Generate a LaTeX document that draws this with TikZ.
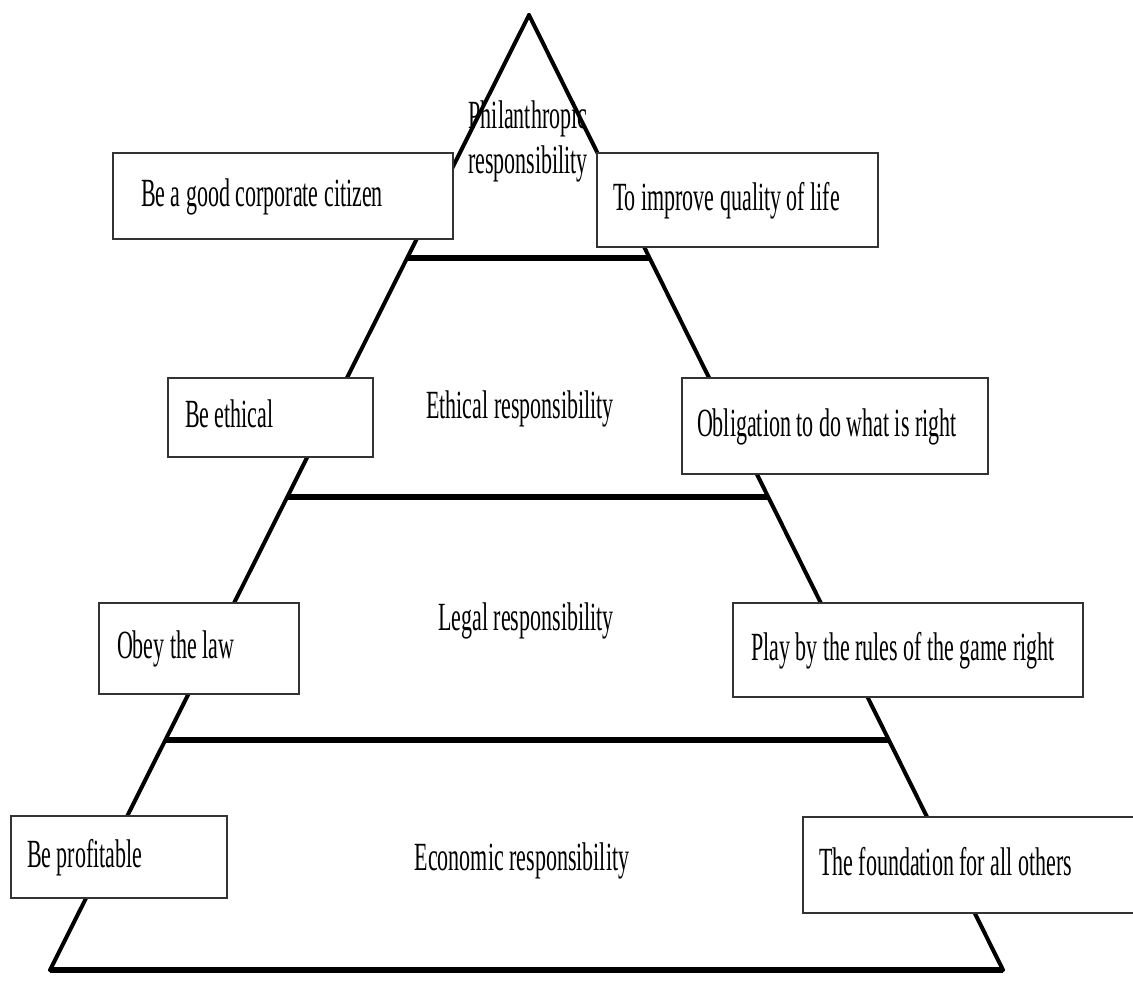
\documentclass[tikz,border=0pt]{standalone}
\usepackage{fontspec}
\setmainfont{Liberation Serif}[FakeStretch=0.55]
\usetikzlibrary{calc}

\begin{document}
\begin{tikzpicture}[x=0.5pt, y=-0.5pt]

\tikzstyle{rbox} = [draw=black!80, line width=1pt, fill=white, rectangle, inner xsep=0pt, text height=14pt, text depth=4pt, font=\fontsize{20}{22.5}\selectfont]
\tikzstyle{level} = [align=center, anchor=base, font=\fontsize{20}{22.5}\selectfont]
\tikzstyle{side} = [line width=2pt, line cap=round]
\tikzstyle{tier} = [line width=2.8pt]

\useasboundingbox (0,0) rectangle (1133,981);
\clip (0,0) rectangle (1133,981);

% pyramid outline
\coordinate (apex) at (529,15);
\coordinate (bl) at (50,970);
\coordinate (br) at (1003,970);

\draw [side] (apex) -- (bl);
\draw [side] (apex) -- (br);
\draw [line width=3pt] (bl) -- (br);
\draw [tier] ($(apex)!0.2545!(bl)$) -- ($(apex)!0.2545!(br)$);
\draw [tier] ($(apex)!0.5047!(bl)$) -- ($(apex)!0.5047!(br)$);
\draw [tier] ($(apex)!0.759!(bl)$) -- ($(apex)!0.759!(br)$);

% levels
\node [level] (philanthropic) at (528,173) {Philanthropic\\responsibility};
\node [level] (ethical) at (520,418) {Ethical responsibility};
\node [level] (legal) at (526,630) {Legal responsibility};
\node [level] (economic) at (522,870) {Economic responsibility};

% boxes
\node [rbox, minimum height=43pt] (citizen) at (283,196) {\makebox[170pt][l]{\hspace{14pt}Be a good corporate citizen}};
\node [rbox, minimum height=47pt] (quality) at (737.5,200) {\makebox[140.5pt][l]{\hspace{8pt}To improve quality of life}};
\node [rbox, minimum height=39.5pt] (be-ethical) at (270.5,417.5) {\makebox[102.5pt][l]{\hspace{8.5pt}Be ethical}};
\node [rbox, minimum height=48pt] (obligation) at (835,426) {\makebox[153pt][l]{\hspace{7.5pt}Obligation to do what is right}};
\node [rbox, minimum height=45.5pt] (obey) at (199,648.5) {\makebox[100pt][l]{\hspace{9pt}Obey the law}};
\node [rbox, minimum height=47pt] (rules) at (908,650) {\makebox[175pt][l]{\hspace{9pt}Play by the rules of the game right}};
\node [rbox, minimum height=41pt] (profitable) at (119,857) {\makebox[108pt][l]{\hspace{8pt}Be profitable}};
\node [rbox, minimum height=48pt] (foundation) at (971.5,865) {\makebox[168.5pt][l]{\hspace{8pt}The foundation for all others}};

\end{tikzpicture}
\end{document}
